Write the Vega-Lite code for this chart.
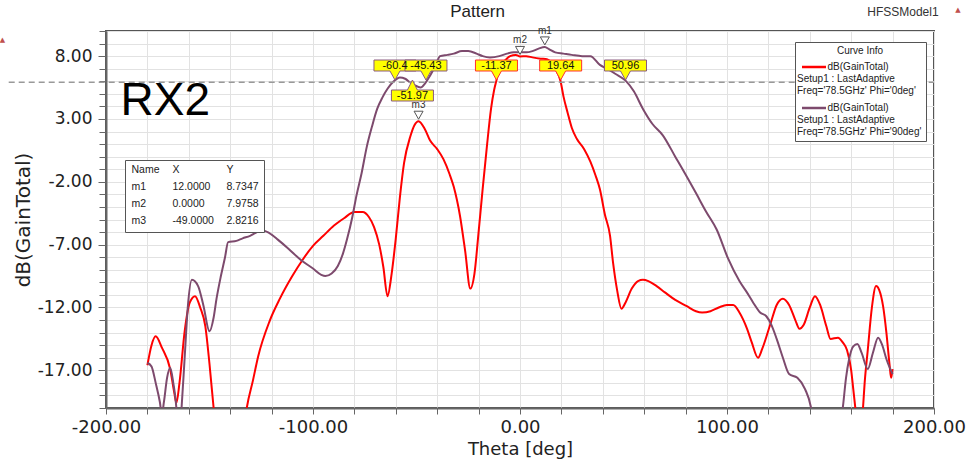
{
  "$schema": "https://vega.github.io/schema/vega-lite/v6.json",
  "width": 828,
  "height": 377,
  "autosize": {"type": "none"},
  "padding": {"left": 106, "top": 31, "right": 36, "bottom": 55},
  "background": "white",
  "config": {
    "font": "Liberation Sans",
    "view": {"stroke": "#555", "strokeWidth": 2},
    "axis": {
      "domainColor": "#666", "domainWidth": 2,
      "tickColor": "#666", "tickWidth": 1,
      "gridColor": "#e2e2e2", "gridWidth": 1,
      "labelFont": "DejaVu Sans", "labelFontSize": 17, "labelColor": "#222",
      "titleFont": "DejaVu Sans", "titleFontSize": 17, "titleFontWeight": "normal", "titleColor": "#222"
    },
    "legend": {"labelFont": "Liberation Sans", "titleFont": "Liberation Sans", "labelColor": "#222", "titleColor": "#222"}
  },
  "datasets": {
    "curves": [
      {"series": "0deg", "theta": -180, "gain": -16.6}, {"series": "0deg", "theta": -178, "gain": -15.0}, {"series": "0deg", "theta": -176, "gain": -14.3}, {"series": "0deg", "theta": -173, "gain": -15.2}, {"series": "0deg", "theta": -169, "gain": -16.9}, {"series": "0deg", "theta": -167, "gain": -18.8}, {"series": "0deg", "theta": -166, "gain": -19.6}, {"series": "0deg", "theta": -164.5, "gain": -18.0}, {"series": "0deg", "theta": -162, "gain": -13.9}, {"series": "0deg", "theta": -159.5, "gain": -11.6}, {"series": "0deg", "theta": -157, "gain": -11.1}, {"series": "0deg", "theta": -154.5, "gain": -12.0}, {"series": "0deg", "theta": -152, "gain": -13.5}, {"series": "0deg", "theta": -150, "gain": -16.5}, {"series": "0deg", "theta": -148, "gain": -20}, {"series": "0deg", "theta": -145, "gain": -24}, {"series": "0deg", "theta": -140, "gain": -27}, {"series": "0deg", "theta": -135, "gain": -24}, {"series": "0deg", "theta": -132, "gain": -20}, {"series": "0deg", "theta": -129, "gain": -17.8}, {"series": "0deg", "theta": -126.5, "gain": -15.9}, {"series": "0deg", "theta": -121, "gain": -13.1}, {"series": "0deg", "theta": -116, "gain": -11.3}, {"series": "0deg", "theta": -110, "gain": -9.5}, {"series": "0deg", "theta": -105, "gain": -8.2}, {"series": "0deg", "theta": -100, "gain": -7.1}, {"series": "0deg", "theta": -95, "gain": -6.3}, {"series": "0deg", "theta": -90, "gain": -5.5}, {"series": "0deg", "theta": -85, "gain": -4.9}, {"series": "0deg", "theta": -80, "gain": -4.4}, {"series": "0deg", "theta": -76, "gain": -4.4}, {"series": "0deg", "theta": -73, "gain": -4.8}, {"series": "0deg", "theta": -70.5, "gain": -5.6}, {"series": "0deg", "theta": -68, "gain": -7.0}, {"series": "0deg", "theta": -66, "gain": -8.8}, {"series": "0deg", "theta": -64, "gain": -11.1}, {"series": "0deg", "theta": -62, "gain": -9.3}, {"series": "0deg", "theta": -60, "gain": -6.5}, {"series": "0deg", "theta": -58, "gain": -3.2}, {"series": "0deg", "theta": -56, "gain": -0.5}, {"series": "0deg", "theta": -53, "gain": 1.6}, {"series": "0deg", "theta": -51, "gain": 2.5}, {"series": "0deg", "theta": -49, "gain": 2.82}, {"series": "0deg", "theta": -46, "gain": 2.2}, {"series": "0deg", "theta": -43.5, "gain": 1.3}, {"series": "0deg", "theta": -40, "gain": 0.6}, {"series": "0deg", "theta": -37, "gain": -0.2}, {"series": "0deg", "theta": -34, "gain": -1.4}, {"series": "0deg", "theta": -32, "gain": -2.4}, {"series": "0deg", "theta": -29, "gain": -4.7}, {"series": "0deg", "theta": -26.5, "gain": -7.5}, {"series": "0deg", "theta": -24, "gain": -10.5}, {"series": "0deg", "theta": -22, "gain": -9.3}, {"series": "0deg", "theta": -20, "gain": -6.0}, {"series": "0deg", "theta": -18, "gain": -2.5}, {"series": "0deg", "theta": -16, "gain": 0.8}, {"series": "0deg", "theta": -14, "gain": 3.8}, {"series": "0deg", "theta": -12.5, "gain": 5.3}, {"series": "0deg", "theta": -11.4, "gain": 6.05}, {"series": "0deg", "theta": -9.7, "gain": 7.2}, {"series": "0deg", "theta": -7, "gain": 7.7}, {"series": "0deg", "theta": -4.8, "gain": 8.0}, {"series": "0deg", "theta": -2, "gain": 8.1}, {"series": "0deg", "theta": 0, "gain": 7.98}, {"series": "0deg", "theta": 3, "gain": 8.0}, {"series": "0deg", "theta": 6, "gain": 7.9}, {"series": "0deg", "theta": 10, "gain": 7.8}, {"series": "0deg", "theta": 13, "gain": 7.75}, {"series": "0deg", "theta": 15, "gain": 7.5}, {"series": "0deg", "theta": 17, "gain": 7.0}, {"series": "0deg", "theta": 19.6, "gain": 6.0}, {"series": "0deg", "theta": 21, "gain": 4.8}, {"series": "0deg", "theta": 23, "gain": 3.5}, {"series": "0deg", "theta": 25, "gain": 2.3}, {"series": "0deg", "theta": 27.5, "gain": 1.4}, {"series": "0deg", "theta": 31, "gain": 0.6}, {"series": "0deg", "theta": 34, "gain": -0.4}, {"series": "0deg", "theta": 36.5, "gain": -1.5}, {"series": "0deg", "theta": 38.6, "gain": -2.6}, {"series": "0deg", "theta": 41, "gain": -4.6}, {"series": "0deg", "theta": 43.5, "gain": -6.3}, {"series": "0deg", "theta": 45, "gain": -8.5}, {"series": "0deg", "theta": 47, "gain": -10.7}, {"series": "0deg", "theta": 49, "gain": -12.1}, {"series": "0deg", "theta": 51, "gain": -11.6}, {"series": "0deg", "theta": 54, "gain": -10.5}, {"series": "0deg", "theta": 57, "gain": -9.9}, {"series": "0deg", "theta": 59.4, "gain": -9.8}, {"series": "0deg", "theta": 62, "gain": -9.9}, {"series": "0deg", "theta": 66, "gain": -10.3}, {"series": "0deg", "theta": 70, "gain": -10.8}, {"series": "0deg", "theta": 75, "gain": -11.4}, {"series": "0deg", "theta": 80.6, "gain": -11.9}, {"series": "0deg", "theta": 85, "gain": -12.3}, {"series": "0deg", "theta": 88, "gain": -12.4}, {"series": "0deg", "theta": 92, "gain": -12.3}, {"series": "0deg", "theta": 96, "gain": -12.0}, {"series": "0deg", "theta": 100, "gain": -11.8}, {"series": "0deg", "theta": 103, "gain": -11.8}, {"series": "0deg", "theta": 106, "gain": -12.4}, {"series": "0deg", "theta": 109.7, "gain": -13.7}, {"series": "0deg", "theta": 112, "gain": -14.8}, {"series": "0deg", "theta": 115, "gain": -16.0}, {"series": "0deg", "theta": 117, "gain": -15.3}, {"series": "0deg", "theta": 121, "gain": -13.3}, {"series": "0deg", "theta": 124, "gain": -11.8}, {"series": "0deg", "theta": 127, "gain": -11.3}, {"series": "0deg", "theta": 130, "gain": -11.8}, {"series": "0deg", "theta": 133, "gain": -13.0}, {"series": "0deg", "theta": 135, "gain": -13.7}, {"series": "0deg", "theta": 137, "gain": -13.4}, {"series": "0deg", "theta": 140, "gain": -12.0}, {"series": "0deg", "theta": 142.5, "gain": -11.1}, {"series": "0deg", "theta": 145, "gain": -11.8}, {"series": "0deg", "theta": 148, "gain": -13.5}, {"series": "0deg", "theta": 150, "gain": -14.5}, {"series": "0deg", "theta": 153.6, "gain": -14.4}, {"series": "0deg", "theta": 156, "gain": -14.8}, {"series": "0deg", "theta": 158, "gain": -15.4}, {"series": "0deg", "theta": 160, "gain": -17.0}, {"series": "0deg", "theta": 161, "gain": -18.5}, {"series": "0deg", "theta": 162, "gain": -20}, {"series": "0deg", "theta": 164, "gain": -23}, {"series": "0deg", "theta": 165.7, "gain": -20}, {"series": "0deg", "theta": 166.5, "gain": -18.0}, {"series": "0deg", "theta": 168, "gain": -15.4}, {"series": "0deg", "theta": 170, "gain": -12.0}, {"series": "0deg", "theta": 172, "gain": -10.3}, {"series": "0deg", "theta": 173.5, "gain": -10.6}, {"series": "0deg", "theta": 175.4, "gain": -11.9}, {"series": "0deg", "theta": 177, "gain": -14.0}, {"series": "0deg", "theta": 178.5, "gain": -16.5}, {"series": "0deg", "theta": 179.3, "gain": -17.6}, {"series": "0deg", "theta": 180, "gain": -16.9},
      {"series": "90deg", "theta": -180, "gain": -16.4}, {"series": "90deg", "theta": -178, "gain": -16.7}, {"series": "90deg", "theta": -176, "gain": -18.0}, {"series": "90deg", "theta": -174, "gain": -19.5}, {"series": "90deg", "theta": -173, "gain": -20.5}, {"series": "90deg", "theta": -172, "gain": -19.5}, {"series": "90deg", "theta": -170.5, "gain": -17.6}, {"series": "90deg", "theta": -169, "gain": -16.8}, {"series": "90deg", "theta": -167.5, "gain": -18.0}, {"series": "90deg", "theta": -166, "gain": -20}, {"series": "90deg", "theta": -165, "gain": -23}, {"series": "90deg", "theta": -163.5, "gain": -20}, {"series": "90deg", "theta": -162, "gain": -16}, {"series": "90deg", "theta": -160.5, "gain": -12.0}, {"series": "90deg", "theta": -158.5, "gain": -9.8}, {"series": "90deg", "theta": -155.5, "gain": -10.3}, {"series": "90deg", "theta": -153, "gain": -11.8}, {"series": "90deg", "theta": -150, "gain": -13.9}, {"series": "90deg", "theta": -148, "gain": -12.8}, {"series": "90deg", "theta": -146.6, "gain": -11.3}, {"series": "90deg", "theta": -144.5, "gain": -9.5}, {"series": "90deg", "theta": -142.5, "gain": -8.0}, {"series": "90deg", "theta": -141, "gain": -6.8}, {"series": "90deg", "theta": -137, "gain": -6.7}, {"series": "90deg", "theta": -134, "gain": -6.5}, {"series": "90deg", "theta": -130.4, "gain": -6.3}, {"series": "90deg", "theta": -127, "gain": -6.0}, {"series": "90deg", "theta": -124, "gain": -5.9}, {"series": "90deg", "theta": -120, "gain": -6.2}, {"series": "90deg", "theta": -117, "gain": -6.6}, {"series": "90deg", "theta": -112, "gain": -7.3}, {"series": "90deg", "theta": -106, "gain": -8.2}, {"series": "90deg", "theta": -100, "gain": -8.9}, {"series": "90deg", "theta": -96, "gain": -9.4}, {"series": "90deg", "theta": -94, "gain": -9.5}, {"series": "90deg", "theta": -91, "gain": -9.3}, {"series": "90deg", "theta": -88, "gain": -8.7}, {"series": "90deg", "theta": -85.5, "gain": -7.7}, {"series": "90deg", "theta": -83.6, "gain": -6.6}, {"series": "90deg", "theta": -81, "gain": -4.8}, {"series": "90deg", "theta": -79, "gain": -3.1}, {"series": "90deg", "theta": -76.5, "gain": -1.3}, {"series": "90deg", "theta": -74, "gain": 0.8}, {"series": "90deg", "theta": -71.5, "gain": 2.4}, {"series": "90deg", "theta": -69, "gain": 3.8}, {"series": "90deg", "theta": -66.5, "gain": 4.7}, {"series": "90deg", "theta": -64, "gain": 5.4}, {"series": "90deg", "theta": -61, "gain": 6.0}, {"series": "90deg", "theta": -58, "gain": 6.3}, {"series": "90deg", "theta": -55.5, "gain": 6.2}, {"series": "90deg", "theta": -53, "gain": 5.9}, {"series": "90deg", "theta": -51, "gain": 5.7}, {"series": "90deg", "theta": -48, "gain": 5.5}, {"series": "90deg", "theta": -46, "gain": 5.8}, {"series": "90deg", "theta": -44, "gain": 6.3}, {"series": "90deg", "theta": -41, "gain": 7.2}, {"series": "90deg", "theta": -38.6, "gain": 8.0}, {"series": "90deg", "theta": -35, "gain": 8.1}, {"series": "90deg", "theta": -32, "gain": 8.2}, {"series": "90deg", "theta": -28, "gain": 8.4}, {"series": "90deg", "theta": -25, "gain": 8.4}, {"series": "90deg", "theta": -21, "gain": 8.2}, {"series": "90deg", "theta": -18, "gain": 8.0}, {"series": "90deg", "theta": -14.5, "gain": 7.9}, {"series": "90deg", "theta": -10, "gain": 8.0}, {"series": "90deg", "theta": -6.3, "gain": 8.2}, {"series": "90deg", "theta": -3, "gain": 8.3}, {"series": "90deg", "theta": 0, "gain": 8.3}, {"series": "90deg", "theta": 3, "gain": 8.3}, {"series": "90deg", "theta": 6, "gain": 8.4}, {"series": "90deg", "theta": 9, "gain": 8.6}, {"series": "90deg", "theta": 12, "gain": 8.73}, {"series": "90deg", "theta": 14, "gain": 8.55}, {"series": "90deg", "theta": 17, "gain": 8.3}, {"series": "90deg", "theta": 21, "gain": 8.2}, {"series": "90deg", "theta": 25, "gain": 8.1}, {"series": "90deg", "theta": 30, "gain": 8.0}, {"series": "90deg", "theta": 34, "gain": 8.0}, {"series": "90deg", "theta": 38.6, "gain": 7.3}, {"series": "90deg", "theta": 42, "gain": 7.0}, {"series": "90deg", "theta": 46, "gain": 6.6}, {"series": "90deg", "theta": 51, "gain": 6.05}, {"series": "90deg", "theta": 55, "gain": 5.2}, {"series": "90deg", "theta": 59.4, "gain": 3.8}, {"series": "90deg", "theta": 64, "gain": 2.6}, {"series": "90deg", "theta": 69, "gain": 1.7}, {"series": "90deg", "theta": 75, "gain": 0.0}, {"series": "90deg", "theta": 80.6, "gain": -1.6}, {"series": "90deg", "theta": 85, "gain": -2.9}, {"series": "90deg", "theta": 90, "gain": -4.4}, {"series": "90deg", "theta": 95, "gain": -5.8}, {"series": "90deg", "theta": 100.5, "gain": -8.1}, {"series": "90deg", "theta": 106, "gain": -9.9}, {"series": "90deg", "theta": 110, "gain": -10.9}, {"series": "90deg", "theta": 112.6, "gain": -11.6}, {"series": "90deg", "theta": 116, "gain": -12.4}, {"series": "90deg", "theta": 119, "gain": -12.7}, {"series": "90deg", "theta": 121.5, "gain": -13.4}, {"series": "90deg", "theta": 124, "gain": -14.5}, {"series": "90deg", "theta": 127, "gain": -16.0}, {"series": "90deg", "theta": 130, "gain": -17.3}, {"series": "90deg", "theta": 134, "gain": -17.6}, {"series": "90deg", "theta": 137.7, "gain": -18.5}, {"series": "90deg", "theta": 140.5, "gain": -19.9}, {"series": "90deg", "theta": 143, "gain": -23}, {"series": "90deg", "theta": 148, "gain": -25}, {"series": "90deg", "theta": 153, "gain": -23}, {"series": "90deg", "theta": 156, "gain": -19.9}, {"series": "90deg", "theta": 157.5, "gain": -17.6}, {"series": "90deg", "theta": 159, "gain": -16.1}, {"series": "90deg", "theta": 161, "gain": -15.1}, {"series": "90deg", "theta": 163, "gain": -14.9}, {"series": "90deg", "theta": 165, "gain": -15.6}, {"series": "90deg", "theta": 168, "gain": -16.9}, {"series": "90deg", "theta": 170.5, "gain": -15.6}, {"series": "90deg", "theta": 173, "gain": -14.4}, {"series": "90deg", "theta": 175, "gain": -15.0}, {"series": "90deg", "theta": 177, "gain": -16.1}, {"series": "90deg", "theta": 180, "gain": -17.3}
    ],
    "markers": [
      {"name": "m1", "theta": 12, "gain": 8.7347},
      {"name": "m2", "theta": 0, "gain": 7.9758},
      {"name": "m3", "theta": -49, "gain": 2.8216}
    ],
    "crossings": [
      {"theta": -60.4, "label": "-60.4", "series": "90deg"},
      {"theta": -45.43, "label": "-45.43", "series": "90deg"},
      {"theta": -51.97, "label": "-51.97", "series": "90deg"},
      {"theta": -11.37, "label": "-11.37", "series": "0deg"},
      {"theta": 19.64, "label": "19.64", "series": "0deg"},
      {"theta": 50.96, "label": "50.96", "series": "90deg"}
    ],
    "table": [
      {"cell": "Name"}, {"cell": "X"}, {"cell": "Y"},
      {"cell": "m1"}, {"cell": "12.0000"}, {"cell": "8.7347"},
      {"cell": "m2"}, {"cell": "0.0000"}, {"cell": "7.9758"},
      {"cell": "m3"}, {"cell": "-49.0000"}, {"cell": "2.8216"}
    ]
  },
  "resolve": {"axis": {"y": "independent"}},
  "layer": [
    {
      "data": {"values": [{}]},
      "mark": {"type": "rule", "opacity": 0},
      "encoding": {
        "y": {"datum": 0, "type": "quantitative", "scale": {"domain": [-20, 10], "nice": false, "zero": false},
          "axis": {"orient": "left", "title": null, "labels": false, "domain": false, "grid": true, "ticks": true, "tickSize": 7,
            "values": [-20,-19,-18,-17,-16,-15,-14,-13,-12,-11,-10,-9,-8,-7,-6,-5,-4,-3,-2,-1,0,1,2,3,4,5,6,7,8,9,10]}}
      }
    },
    {
      "layer": [
        {
          "data": {"name": "curves"},
          "mark": {"type": "line", "clip": true, "strokeWidth": 2, "interpolate": "monotone"},
          "encoding": {
            "x": {"field": "theta", "type": "quantitative", "scale": {"domain": [-200, 200], "nice": false, "zero": false},
              "axis": {"title": "Theta [deg]", "values": [-200,-180,-160,-140,-120,-100,-80,-60,-40,-20,0,20,40,60,80,100,120,140,160,180,200],
                "labelExpr": "datum.value % 100 == 0 ? replace(format(datum.value, '.2f'), '\u2212', '-') : ''",
                "labelFontSize": 18, "titleFontSize": 18, "grid": true,
                "tickSize": 6, "labelPadding": 4, "titlePadding": 4, "labelFlush": false, "labelOverlap": false}},
            "y": {"field": "gain", "type": "quantitative", "scale": {"domain": [-20, 10], "nice": false, "zero": false},
              "axis": {"orient": "left", "title": "dB(GainTotal)", "values": [-17, -12, -7, -2, 3, 8], "grid": false,
                "labelExpr": "replace(format(datum.value, '.2f'), '\u2212', '-')",
                "titleFontSize": 20, "tickSize": 8, "labelPadding": 6, "titlePadding": 4, "labelFlush": false, "labelOverlap": false}},
            "color": {"field": "series", "type": "nominal",
              "scale": {"domain": ["0deg", "90deg"], "range": ["#ff0000", "#7d4a6d"]},
              "legend": {"orient": "none", "legendX": 689, "legendY": 11, "title": "Curve Info", "titleFontSize": 10, "titleFontWeight": "normal", "titleAnchor": "middle", "titlePadding": 6,
                "symbolType": "M-2,0H22", "symbolSize": 4, "symbolStrokeWidth": 2.5,
                "labelFontSize": 10, "labelOffset": -12, "labelBaseline": "middle", "labelLimit": 300, "rowPadding": 7, "padding": 4,
                "fillColor": "white", "strokeColor": "#555",
                "labelExpr": "datum.label == '0deg' ? ['\u200b\u00a0\u00a0\u00a0\u00a0\u00a0\u00a0\u00a0\u00a0\u00a0\u00a0\u00a0dB(GainTotal)', 'Setup1 : LastAdaptive', \"Freq='78.5GHz' Phi='0deg'\"] : ['\u200b\u00a0\u00a0\u00a0\u00a0\u00a0\u00a0\u00a0\u00a0\u00a0\u00a0\u00a0dB(GainTotal)', 'Setup1 : LastAdaptive', \"Freq='78.5GHz' Phi='90deg'\"]"}}
          }
        },
        {
          "data": {"values": [{}]},
          "mark": {"type": "rule", "strokeDash": [6, 4], "color": "#999", "strokeWidth": 1.5},
          "encoding": {"x": {"datum": -247}, "x2": {"datum": 200}, "y": {"datum": 5.92}}
        },
        {
          "data": {"name": "markers"},
          "mark": {"type": "point", "shape": "M0,-2L-4.5,-10H4.5Z", "size": 4, "filled": true, "fill": "white", "stroke": "#555", "strokeWidth": 1, "opacity": 1},
          "encoding": {"x": {"field": "theta", "type": "quantitative"}, "y": {"field": "gain", "type": "quantitative"}}
        },
        {
          "data": {"name": "markers"},
          "mark": {"type": "text", "dy": -11, "baseline": "bottom", "fontSize": 10, "color": "#333"},
          "encoding": {"x": {"field": "theta", "type": "quantitative"}, "y": {"field": "gain", "type": "quantitative"}, "text": {"field": "name"}}
        },
        {
          "data": {"name": "crossings"},
          "transform": [{"filter": "datum.theta != -51.97"}],
          "mark": {"type": "point", "shape": "M0,0L-5,-9H-21V-20H21V-9H5Z", "size": 4, "filled": true, "fill": "#ffff00", "strokeWidth": 1, "opacity": 1},
          "encoding": {"x": {"field": "theta", "type": "quantitative"}, "y": {"datum": 6.1},
            "stroke": {"field": "series", "type": "nominal", "scale": {"domain": ["0deg", "90deg"], "range": ["#ff3030", "#8a5a80"]}, "legend": null}}
        },
        {
          "data": {"name": "crossings"},
          "transform": [{"filter": "datum.theta == -51.97"}],
          "mark": {"type": "point", "shape": "M0,0L5,10H21V21H-21V10H-5Z", "size": 4, "filled": true, "fill": "#ffff00", "strokeWidth": 1, "opacity": 1},
          "encoding": {"x": {"field": "theta", "type": "quantitative"}, "y": {"datum": 6.1},
            "stroke": {"field": "series", "type": "nominal", "legend": null}}
        },
        {
          "data": {"name": "crossings"},
          "transform": [{"filter": "datum.theta != -51.97"}],
          "mark": {"type": "text", "dy": -14.5, "baseline": "middle", "fontSize": 11, "color": "#111"},
          "encoding": {"x": {"field": "theta", "type": "quantitative"}, "y": {"datum": 6.1}, "text": {"field": "label"}}
        },
        {
          "data": {"name": "crossings"},
          "transform": [{"filter": "datum.theta == -51.97"}],
          "mark": {"type": "text", "dy": 15.5, "baseline": "middle", "fontSize": 11, "color": "#111"},
          "encoding": {"x": {"field": "theta", "type": "quantitative"}, "y": {"datum": 6.1}, "text": {"field": "label"}}
        },
        {
          "data": {"values": [{}]},
          "mark": {"type": "text", "text": "Pattern", "fontSize": 17, "font": "Liberation Sans", "align": "center", "baseline": "alphabetic", "color": "#222"},
          "encoding": {"x": {"datum": -20.5}, "y": {"datum": 11.09}}
        },
        {
          "data": {"values": [{}]},
          "mark": {"type": "text", "text": "RX2", "fontSize": 46, "font": "Liberation Sans", "align": "left", "baseline": "alphabetic", "color": "#000"},
          "encoding": {"x": {"datum": -193}, "y": {"datum": 3.35}}
        },
        {
          "data": {"values": [{}]},
          "mark": {"type": "text", "text": "HFSSModel1", "fontSize": 12, "font": "Liberation Sans", "align": "center", "baseline": "alphabetic", "color": "#333"},
          "encoding": {"x": {"datum": 185}, "y": {"datum": 11.17}}
        },
        {
          "data": {"values": [{"t": -250, "g": 9.25}, {"t": 211.6, "g": 11.65}]},
          "mark": {"type": "text", "text": "▲", "fontSize": 7, "font": "DejaVu Sans", "align": "center", "baseline": "middle", "color": "#c0504d"},
          "encoding": {"x": {"field": "t", "type": "quantitative"}, "y": {"field": "g", "type": "quantitative"}}
        },
        {
          "data": {"name": "table"},
          "mark": {"type": "point", "opacity": 0},
          "encoding": {
            "shape": {"field": "cell", "type": "nominal", "sort": null,
              "scale": {"domain": ["Name", "m1", "m2", "m3", "X", "12.0000", "0.0000", "-49.0000", "Y", "8.7347", "7.9758", "2.8216"]},
              "legend": {"orient": "none", "legendX": 19, "legendY": 129, "columns": 3, "title": null,
                "symbolSize": 0, "symbolOpacity": 0, "symbolStrokeWidth": 0, "labelOffset": -9,
                "labelFontSize": 10.5, "columnPadding": 11, "rowPadding": 6, "padding": 5,
                "fillColor": "white", "strokeColor": "#555"}}
          }
        }
      ]
    }
  ]
}
